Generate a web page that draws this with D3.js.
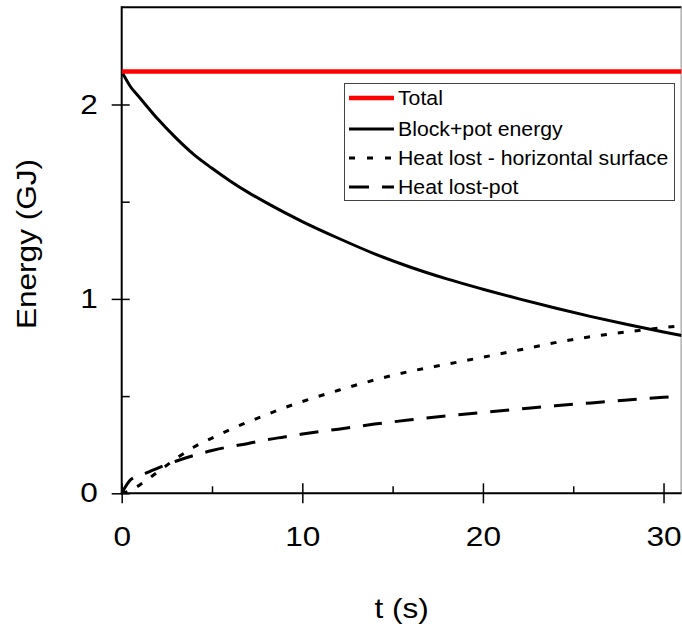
<!DOCTYPE html>
<meta charset="utf-8">
<style>
body {
  margin: 0;
  font-family: Arial, "Liberation Sans", Helvetica, sans-serif;
  background: #fff;
}
svg { display: block; }
.axis path { display: none; }
.axis line { stroke: #000; stroke-width: 1.5px; }
.axis text { font-size: 27px; fill: #000; font-family: Arial, "Liberation Sans", sans-serif; }
.curve { fill: none; }
.legend text { font-size: 19.5px; fill: #000; }
</style>
<body>
<script src="https://d3js.org/d3.v7.min.js"></script>
<script>

// time (s)
let tVals = [0, 0.5, 1, 2, 3, 4, 5, 6, 7, 8, 9, 10, 12, 14, 16, 18, 20, 22, 24, 26, 28, 30, 31];
// energies (GJ)
let total = [2.17, 2.17, 2.17, 2.17, 2.17, 2.17, 2.17, 2.17, 2.17, 2.17, 2.17, 2.17, 2.17, 2.17, 2.17, 2.17, 2.17, 2.17, 2.17, 2.17, 2.17, 2.17, 2.17];
let blockPot = [2.17, 2.09, 2.035, 1.925, 1.828, 1.742, 1.672, 1.607, 1.548, 1.495, 1.445, 1.398, 1.312, 1.232, 1.163, 1.103, 1.05, 1.0, 0.953, 0.909, 0.868, 0.83, 0.812];
let heatHoriz = [0, 0.015, 0.043, 0.11, 0.178, 0.238, 0.284, 0.328, 0.367, 0.404, 0.44, 0.472, 0.53, 0.583, 0.628, 0.664, 0.70, 0.737, 0.775, 0.806, 0.831, 0.852, 0.863];
let heatPot = [0, 0.07, 0.09, 0.13, 0.165, 0.195, 0.22, 0.24, 0.256, 0.275, 0.29, 0.305, 0.33, 0.356, 0.378, 0.398, 0.416, 0.433, 0.45, 0.465, 0.48, 0.494, 0.50];

let seriesNames = ["Total", "Block+pot energy", "Heat lost - horizontal surface", "Heat lost-pot"];
let yMajor = [0, 1, 2], yMinor = [0.5, 1.5];
let xMajor = [0, 10, 20, 30], xMinor = [5, 15, 25];

let width = 682, height = 624;
let mLeft = 121.7, mRight = 681.6, mTop = 7.3, mBottom = 493.3;
let bigStretch = 1.17, legendStretch = 1.09;

let svg = d3.select("body").append("svg")
	.attr("width", width)
	.attr("height", height);

let x = d3.scaleLinear().domain([0, 31]).range([mLeft, mRight]);
let y = d3.scaleLinear().domain([0, 2.5]).range([mBottom, mTop]);

svg.append("clipPath").attr("id", "clip")
	.append("rect")
	.attr("x", mLeft).attr("y", mTop)
	.attr("width", mRight - mLeft).attr("height", mBottom - mTop);

// frame
svg.append("line").attr("x1", mLeft).attr("x2", mRight).attr("y1", mTop).attr("y2", mTop)
	.attr("stroke", "#000").attr("stroke-width", 2);
svg.append("line").attr("x1", mRight - 0.5).attr("x2", mRight - 0.5).attr("y1", mTop).attr("y2", mBottom)
	.attr("stroke", "#888").attr("stroke-width", 1);
svg.append("line").attr("x1", mLeft).attr("x2", mLeft).attr("y1", mTop - 1).attr("y2", mBottom + 1)
	.attr("stroke", "#000").attr("stroke-width", 2);
svg.append("line").attr("x1", mLeft - 1).attr("x2", mRight).attr("y1", mBottom).attr("y2", mBottom)
	.attr("stroke", "#000").attr("stroke-width", 2);

/* ------- AXES -------*/
let yAxis = svg.append("g").attr("class", "axis")
	.attr("transform", "translate(" + mLeft + ",0)")
	.call(d3.axisLeft(y).tickValues(yMajor).tickFormat(d3.format("d")).tickSize(10).tickPadding(14));
yAxis.selectAll("line").attr("x2", 8).attr("x1", -10);
yAxis.selectAll("text")
	.attr("x", -24 / bigStretch)
	.attr("transform", "scale(" + bigStretch + ",1)");

svg.append("g").attr("class", "axis")
	.attr("transform", "translate(" + mLeft + ",0)")
	.call(d3.axisLeft(y).tickValues(yMinor).tickSize(-8).tickFormat(""));

let xAxis = svg.append("g").attr("class", "axis")
	.attr("transform", "translate(0," + mBottom + ")")
	.call(d3.axisBottom(x).tickValues(xMajor).tickSize(10).tickPadding(24));
xAxis.selectAll("line").attr("y1", -10).attr("y2", 10);
xAxis.selectAll("text").attr("transform", "scale(" + bigStretch + ",1)");

svg.append("g").attr("class", "axis")
	.attr("transform", "translate(0," + mBottom + ")")
	.call(d3.axisBottom(x).tickValues(xMinor).tickSize(-7).tickFormat(""));

svg.append("text")
	.attr("transform", "translate(" + (mLeft + mRight) / 2 + ",618) scale(" + bigStretch + ",1)")
	.attr("text-anchor", "middle")
	.style("font-size", "27px")
	.text("t (s)");

svg.append("text")
	.attr("transform", "translate(36,244) rotate(-90) scale(" + bigStretch + ",1)")
	.attr("text-anchor", "middle")
	.style("font-size", "27px")
	.text("Energy (GJ)");

/* ------- CURVES -------*/
let styles = [
	{ color: "#ff0000", width: 4.5, dash: null },
	{ color: "#000", width: 3, dash: null },
	{ color: "#000", width: 3, dash: "6,11" },
	{ color: "#000", width: 3, dash: "19,13" }
];
let values = [total, blockPot, heatHoriz, heatPot];

let line = d3.line()
	.x(function(d) { return x(d[0]); })
	.y(function(d) { return y(d[1]); })
	.curve(d3.curveMonotoneX);

let plot = svg.append("g").attr("clip-path", "url(#clip)");
[3, 2, 1, 0].forEach(function(i) {
	plot.append("path")
		.attr("class", "curve")
		.attr("d", line(tVals.map(function(t, k) { return [t, values[i][k]]; })))
		.attr("stroke", styles[i].color)
		.attr("stroke-width", styles[i].width)
		.attr("stroke-dasharray", styles[i].dash);
});

/* ------- LEGEND -------*/
let legend = svg.append("g").attr("class", "legend");
legend.append("rect")
	.attr("x", 344.5).attr("y", 83.5)
	.attr("width", 330).attr("height", 117)
	.attr("fill", "#fff").attr("stroke", "#444").attr("stroke-width", 1);

let rowY = [98, 129, 158, 187];
seriesNames.forEach(function(name, i) {
	legend.append("line")
		.attr("x1", 349).attr("x2", 394)
		.attr("y1", rowY[i]).attr("y2", rowY[i])
		.attr("stroke", styles[i].color)
		.attr("stroke-width", styles[i].width)
		.attr("stroke-dasharray", i === 2 ? "6,12" : i === 3 ? "20,13" : null);
	legend.append("text")
		.attr("transform", "translate(398," + (rowY[i] + 7) + ") scale(" + legendStretch + ",1)")
		.text(name);
});

</script>
</body>
